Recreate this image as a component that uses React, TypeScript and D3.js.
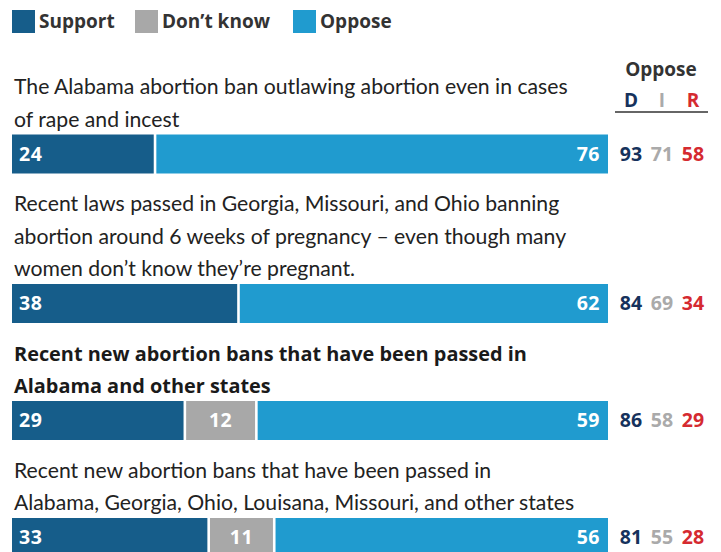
import React from "react";
import * as d3 from "d3";

const questions: string[][] = [
  ["The Alabama abortion ban outlawing abortion even in cases", "of rape and incest"],
  [
    "Recent laws passed in Georgia, Missouri, and Ohio banning",
    "abortion around 6 weeks of pregnancy – even though many",
    "women don’t know they’re pregnant.",
  ],
  ["Recent new abortion bans that have been passed in", "Alabama and other states"],
  [
    "Recent new abortion bans that have been passed in",
    "Alabama, Georgia, Ohio, Louisana, Missouri, and other states",
  ],
];
const boldQuestion = [false, false, true, false];
const support = [24, 38, 29, 33];
const dontKnow = [0, 0, 12, 11];
const oppose = [76, 62, 59, 56];
const demOppose = [93, 84, 86, 81];
const indOppose = [71, 69, 58, 55];
const repOppose = [58, 34, 29, 28];
const legendLabels = ["Support", "Don’t know", "Oppose"];
const partyLabels = ["D", "I", "R"];

const COLORS = { support: "#165d8a", dk: "#a8a8a8", oppose: "#209bcf" };
const PARTY_COLORS = ["#16325c", "#aaaaaa", "#d52a30"];
const TEXT = "#222222";
const FONT = "Lato, 'Open Sans', sans-serif";
const BOLD_FONT = "'Open Sans', Lato, sans-serif";

const W = 721;
const H = 552;
const LINE = 32.5;
const GAP = 37.5;
const BAR_H = 39;
const FIRST_BASELINE = 94;

export default function App() {
  const x = d3.scaleLinear().domain([0, 100]).range([12, 608]);
  const partyX = d3.scalePoint<string>().domain(partyLabels).range([631, 693]);

  const layout: { baselines: number[]; barTop: number }[] = [];
  let y = FIRST_BASELINE;
  questions.forEach((lines) => {
    const baselines = lines.map((_, i) => y + i * LINE);
    const barTop = baselines[baselines.length - 1] + 8;
    layout.push({ baselines, barTop });
    y = barTop + BAR_H + GAP;
  });

  const legendX = [12, 135, 293];

  return (
    <div style={{ position: "absolute", left: 0, top: 0 }}>
      <svg width={W} height={H} style={{ display: "block", fontFamily: FONT }}>
        <rect width={W} height={H} fill="#fff" />
        {legendLabels.map((l, i) => (
          <g key={l} transform={`translate(${legendX[i]},10)`}>
            <rect width={23} height={23} fill={[COLORS.support, COLORS.dk, COLORS.oppose][i]} />
            <text x={27} y={18} fontSize={19} fontWeight={700} fontFamily={BOLD_FONT} fill="#333">
              {l}
            </text>
          </g>
        ))}
        <text x={661} y={76} textAnchor="middle" fontSize={19} fontWeight={700} fontFamily={BOLD_FONT} fill="#333">
          Oppose
        </text>
        {partyLabels.map((p, i) => (
          <text
            key={p}
            x={partyX(p)}
            y={107}
            textAnchor="middle"
            fontSize={19}
            fontWeight={700}
            fontFamily={BOLD_FONT}
            fill={PARTY_COLORS[i]}
          >
            {p}
          </text>
        ))}
        <line x1={615} x2={708} y1={112} y2={112} stroke="#333" strokeWidth={1.5} />
        {questions.map((lines, qi) => {
          const { baselines, barTop } = layout[qi];
          const segs = [
            { v: support[qi], c: COLORS.support, k: "s" },
            { v: dontKnow[qi], c: COLORS.dk, k: "d" },
            { v: oppose[qi], c: COLORS.oppose, k: "o" },
          ];
          let acc = 0;
          const labelY = barTop + BAR_H / 2 + 6.8;
          return (
            <g key={qi}>
              {lines.map((ln, li) => (
                <text
                  key={li}
                  x={14}
                  y={baselines[li]}
                  fontSize={boldQuestion[qi] ? 19.9 : 21.2}
                  fontWeight={boldQuestion[qi] ? 700 : 400}
                  fontFamily={boldQuestion[qi] ? BOLD_FONT : FONT}
                  fill={boldQuestion[qi] ? "#1a1a1a" : TEXT}
                >
                  {ln}
                </text>
              ))}
              {segs.map((s) => {
                if (s.v <= 0) return null;
                const x0 = x(acc) + (acc > 0 ? 1.3 : 0);
                const x1 = x(acc + s.v) - (acc + s.v < 100 ? 1.3 : 0);
                acc += s.v;
                let tx = x0 + 7;
                let anchor: "start" | "middle" | "end" = "start";
                if (s.k === "d") {
                  tx = (x0 + x1) / 2;
                  anchor = "middle";
                } else if (s.k === "o") {
                  tx = x1 - 8;
                  anchor = "end";
                }
                return (
                  <g key={s.k}>
                    <rect x={x0} y={barTop} width={x1 - x0} height={BAR_H} fill={s.c} />
                    <text
                      x={tx}
                      y={labelY}
                      textAnchor={anchor}
                      fontSize={19.5}
                      fontWeight={700}
                      letterSpacing={0.5}
                      fontFamily={BOLD_FONT}
                      fill="#fff"
                    >
                      {s.v}
                    </text>
                  </g>
                );
              })}
              {[demOppose[qi], indOppose[qi], repOppose[qi]].map((v, pi) => (
                <text
                  key={pi}
                  x={partyX(partyLabels[pi])}
                  y={labelY}
                  textAnchor="middle"
                  fontSize={19.5}
                  fontWeight={700}
                  fontFamily={BOLD_FONT}
                  fill={PARTY_COLORS[pi]}
                >
                  {v}
                </text>
              ))}
            </g>
          );
        })}
      </svg>
    </div>
  );
}
